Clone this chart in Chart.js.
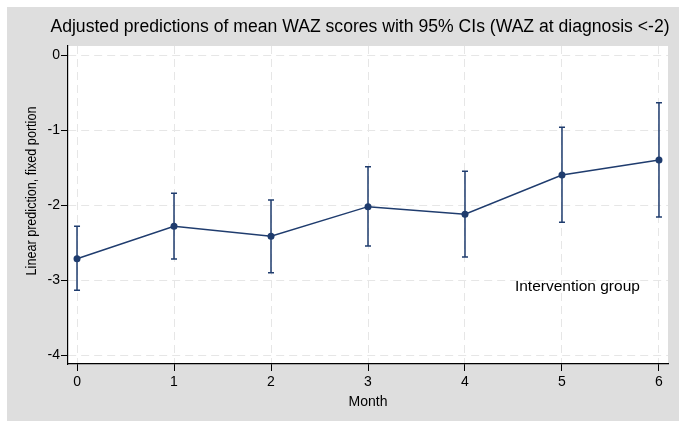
<!DOCTYPE html>
<html>
<head>
<meta charset="utf-8">
<script src="https://cdn.jsdelivr.net/npm/chart.js@4/dist/chart.umd.min.js"></script>
<style>
html,body{margin:0;padding:0;background:#fff;}
#wrap{width:679px;height:421px;position:relative;}
</style>
</head>
<body>
<div id="wrap"><canvas id="c" width="679" height="421"></canvas></div>
<script>
// ---- data ----
const months = [0, 1, 2, 3, 4, 5, 6];
const meanWAZ = [-2.716, -2.284, -2.417, -2.022, -2.124, -1.600, -1.400];
const ciUpper = [-2.284, -1.844, -1.933, -1.489, -1.550, -0.964, -0.636];
const ciLower = [-3.138, -2.720, -2.903, -2.547, -2.693, -2.231, -2.160];
const yTickValues = [0, -1, -2, -3, -4];
const xTickValues = [0, 1, 2, 3, 4, 5, 6];
const titleText = 'Adjusted predictions of mean WAZ scores with 95% CIs (WAZ at diagnosis <-2)';
const yTitleText = 'Linear prediction, fixed portion';
const xTitleText = 'Month';
const noteText = 'Intervention group';

const NAVY = '#1f3c6e';
const FONT = '"Liberation Sans", Arial, sans-serif';

const bgPlugin = {
  id: 'bg',
  beforeDraw(chart) {
    const ctx = chart.ctx;
    ctx.save();
    ctx.fillStyle = '#ffffff';
    ctx.fillRect(0, 0, chart.width, chart.height);
    ctx.fillStyle = '#dedede';
    ctx.fillRect(7, 7, chart.width - 7, chart.height - 7);
    const a = chart.chartArea;
    ctx.fillStyle = '#ffffff';
    ctx.fillRect(a.left, a.top, a.right - a.left, a.bottom - a.top);
    ctx.restore();
  }
};

const errPlugin = {
  id: 'errbars',
  beforeDatasetsDraw(chart) {
    const ctx = chart.ctx;
    const xs = chart.scales.x, ys = chart.scales.y;
    ctx.save();
    ctx.strokeStyle = NAVY;
    ctx.lineWidth = 1.5;
    months.forEach((m, i) => {
      const px = xs.getPixelForValue(m);
      const pt = ys.getPixelForValue(ciUpper[i]);
      const pb = ys.getPixelForValue(ciLower[i]);
      ctx.beginPath();
      ctx.moveTo(px, pt); ctx.lineTo(px, pb);
      ctx.moveTo(px - 3, pt); ctx.lineTo(px + 3, pt);
      ctx.moveTo(px - 3, pb); ctx.lineTo(px + 3, pb);
      ctx.stroke();
    });
    ctx.restore();
  }
};

const textPlugin = {
  id: 'texts',
  afterDraw(chart) {
    const ctx = chart.ctx;
    const a = chart.chartArea;
    const xs = chart.scales.x, ys = chart.scales.y;
    ctx.save();
    ctx.fillStyle = '#000';
    ctx.textBaseline = 'middle';
    ctx.textAlign = 'center';
    ctx.font = '17.6px ' + FONT;
    ctx.fillText(titleText, 360, 27);
    ctx.font = '14px ' + FONT;
    ctx.fillText(xTitleText, (a.left + a.right) / 2, 402);
    ctx.save();
    ctx.translate(32, 191);
    ctx.rotate(-Math.PI / 2);
    ctx.scale(0.84, 1);
    ctx.font = '15px ' + FONT;
    ctx.fillText(yTitleText, 0, 0);
    ctx.restore();
    ctx.textAlign = 'left';
    ctx.font = '15.5px ' + FONT;
    ctx.fillText(noteText, xs.getPixelForValue(4.515), ys.getPixelForValue(-3.09));
    ctx.restore();
  }
};

new Chart(document.getElementById('c'), {
  type: 'line',
  data: {
    datasets: [{
      data: months.map((m, i) => ({x: m, y: meanWAZ[i]})),
      borderColor: NAVY,
      backgroundColor: NAVY,
      borderWidth: 1.5,
      pointRadius: 3.5,
      pointHoverRadius: 3.5,
      pointBackgroundColor: NAVY,
      pointBorderWidth: 0,
      tension: 0,
      fill: false
    }]
  },
  options: {
    responsive: false,
    animation: false,
    events: [],
    layout: {padding: {left: 7, top: 46, right: 11, bottom: 0}},
    plugins: {legend: {display: false}, title: {display: false}, tooltip: {enabled: false}},
    scales: {
      x: {
        type: 'linear',
        min: -0.093, max: 6.093,
        afterBuildTicks: s => { s.ticks = xTickValues.map(v => ({value: v})); },
        afterFit: s => { s.height = 57; },
        grid: {color: '#e6e6e6', lineWidth: 1, tickColor: '#000', tickLength: 7, drawTicks: true},
        border: {display: true, color: '#000', width: 1.2, dash: [8, 5]},
        ticks: {color: '#000', font: {family: FONT, size: 14}, padding: 3, maxRotation: 0,
                callback: v => String(v)}
      },
      y: {
        type: 'linear',
        min: -4.12, max: 0.12,
        afterBuildTicks: s => { s.ticks = yTickValues.map(v => ({value: v})); },
        afterFit: s => { s.width = 61; },
        grid: {color: '#e6e6e6', lineWidth: 1, tickColor: '#000', tickLength: 7, drawTicks: true},
        border: {display: true, color: '#000', width: 1.2, dash: [8, 5]},
        ticks: {color: '#000', font: {family: FONT, size: 14}, padding: 1,
                callback: v => String(v)}
      }
    }
  },
  plugins: [bgPlugin, errPlugin, textPlugin]
});
</script>
</body>
</html>
